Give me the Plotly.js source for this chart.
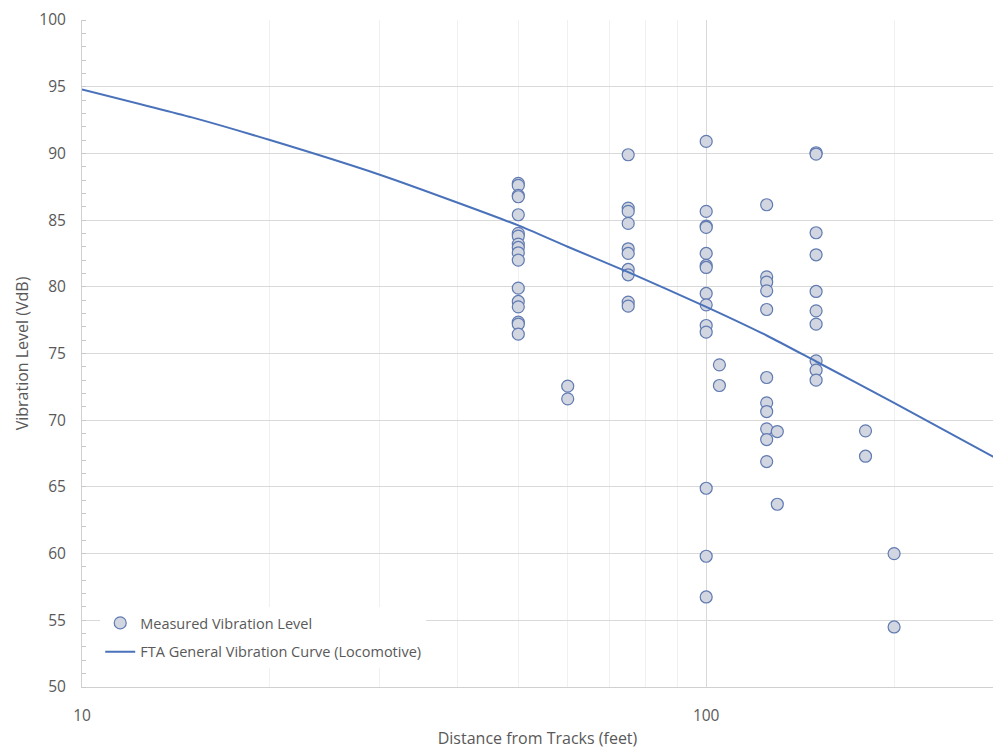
<!DOCTYPE html>
<html>
<head>
<meta charset="utf-8">
<script src="https://cdn.plot.ly/plotly-3.0.1.min.js"></script>
<style>
html,body{margin:0;padding:0;background:#fff;}
#chart{width:993px;height:749px;}
</style>
</head>
<body>
<div id="chart"></div>
<script>
// Measured vibration levels: distance (feet) and level (VdB)
const measuredDistance = [
  50,50,50,50,50,50,50,50,50,50,50,50,50,50,50,50,50,
  60,60,
  75,75,75,75,75,75,75,75,75,75,
  100,100,100,100,100,100,100,100,100,100,100,100,100,100,
  105,105,
  125,125,125,125,125,125,125,125,125,125,125,
  130,130,
  150,150,150,150,150,150,150,150,150,150,
  180,180,
  200,200
];
const measuredLevel = [
  87.75,87.6,86.85,86.75,85.4,84.0,83.8,83.2,82.95,82.55,82.0,79.9,78.9,78.5,77.35,77.2,76.45,
  72.55,71.6,
  89.9,85.9,85.65,84.75,82.85,82.5,81.3,80.9,78.85,78.55,
  90.9,85.65,84.55,84.45,82.5,81.6,81.45,79.5,78.65,77.1,76.6,64.9,59.8,56.75,
  74.15,72.6,
  86.15,80.75,80.35,79.7,78.3,73.2,71.3,70.65,69.35,68.55,66.9,
  69.15,63.7,
  90.05,89.95,84.05,82.4,79.65,78.2,77.2,74.45,73.75,73.0,
  69.2,67.3,
  60.0,54.5
];

// FTA general vibration curve (locomotive)
const curveDistance = [10, 15, 20, 30, 40, 50, 60, 75, 100, 125, 150, 200, 290];
const curveLevel    = [94.8, 92.7, 91.0, 88.4, 86.3, 84.6, 83.0, 81.1, 78.5, 76.35, 74.4, 71.3, 67.2];

const yTicks = [50, 55, 60, 65, 70, 75, 80, 85, 90, 95, 100];
const xTickVals = [10, 100];
const xTickText = ['10', '100'];

const FONT = '"Open Sans", "Roboto", "Liberation Sans", sans-serif';
const GRAY = '#595959';

const traces = [
  {
    type: 'scatter',
    mode: 'markers',
    name: 'Measured Vibration Level',
    legendgroup: 'm',
    x: measuredDistance,
    y: measuredLevel,
    marker: {
      size: 12,
      color: 'rgb(210,214,224)',
      line: {color: 'rgb(96,122,178)', width: 1.2}
    }
  },
  {
    type: 'scatter',
    mode: 'lines',
    name: 'FTA General Vibration Curve (Locomotive)',
    legendgroup: 'c',
    x: curveDistance,
    y: curveLevel,
    line: {color: 'rgb(74,114,186)', width: 2, shape: 'spline', smoothing: 0.6}
  }
];

const layout = {
  width: 993,
  height: 749,
  margin: {l: 82, r: 0, t: 20, b: 62},
  paper_bgcolor: '#fff',
  plot_bgcolor: '#fff',
  font: {family: FONT, color: GRAY, size: 14},
  showlegend: true,
  legend: {
    x: 0.02, y: 0.12, xanchor: 'left', yanchor: 'top',
    bgcolor: '#ffffff',
    font: {family: FONT, size: 14.5, color: GRAY},
    tracegroupgap: 7,
    itemwidth: 30
  },
  xaxis: {
    type: 'log',
    range: [1, 2.4595],
    tickvals: xTickVals,
    ticktext: xTickText,
    showgrid: true,
    gridcolor: '#d9d9d9',
    gridwidth: 1,
    minor: {showgrid: true, gridcolor: '#f0f0f0', dtick: 'D1', ticks: ''},
    showline: true,
    linecolor: '#d0d0d0',
    linewidth: 1,
    ticks: '',
    tickfont: {family: FONT, size: 15.5, color: GRAY},
    ticklabelstandoff: 14,
    zeroline: false,
    title: {text: 'Distance from Tracks (feet)', font: {family: FONT, size: 16, color: GRAY}, standoff: 8}
  },
  yaxis: {
    range: [50, 100],
    tickvals: yTicks,
    showgrid: true,
    gridcolor: '#d9d9d9',
    gridwidth: 1,
    showline: true,
    linecolor: '#d0d0d0',
    linewidth: 1,
    ticks: '',
    minor: {dtick: 1, ticks: 'inside', ticklen: 4, tickcolor: '#c8c8c8', showgrid: false},
    tickfont: {family: FONT, size: 15.5, color: GRAY},
    ticklabelstandoff: 12,
    zeroline: false,
    title: {text: 'Vibration Level (VdB)', font: {family: FONT, size: 16, color: GRAY}, standoff: 6}
  }
};

Plotly.newPlot('chart', traces, layout, {displayModeBar: false, staticPlot: true});
</script>
</body>
</html>
